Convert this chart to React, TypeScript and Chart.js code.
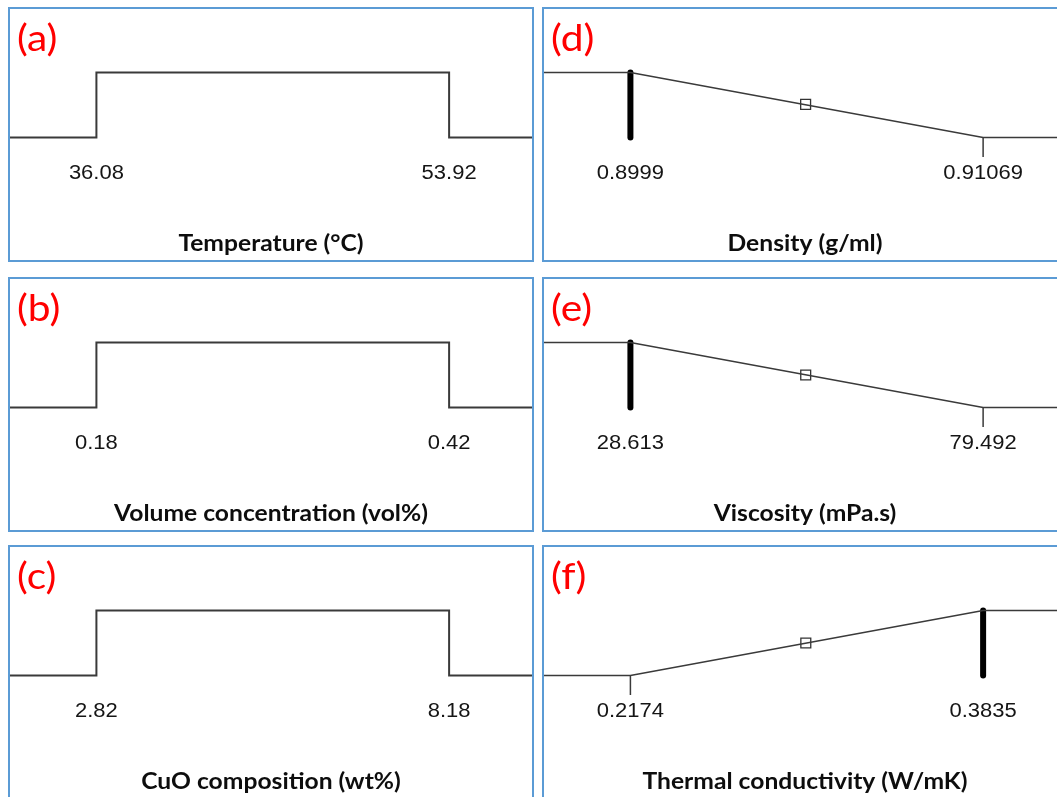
import { useEffect, useRef } from "react";
import { Chart, registerables } from "chart.js";

Chart.register(...registerables);

// Factor ranges, panels (a)-(c)
const factorLetters = ["(a)", "(b)", "(c)"];
const factorNames = ["Temperature (°C)", "Volume concentration (vol%)", "CuO composition (wt%)"];
const factorLow = [36.08, 0.18, 2.82];
const factorHigh = [53.92, 0.42, 8.18];
const factorLowText = ["36.08", "0.18", "2.82"];
const factorHighText = ["53.92", "0.42", "8.18"];

// Response desirability ramps, panels (d)-(f)
const responseLetters = ["(d)", "(e)", "(f)"];
const responseNames = ["Density (g/ml)", "Viscosity (mPa.s)", "Thermal conductivity (W/mK)"];
const responseLow = [0.8999, 28.613, 0.2174];
const responseHigh = [0.91069, 79.492, 0.3835];
const responseLowText = ["0.8999", "28.613", "0.2174"];
const responseHighText = ["0.91069", "79.492", "0.3835"];
const responseGoal = ["minimize", "minimize", "maximize"];
const responseSolution = [0.8999, 28.613, 0.3835];
const rampMarkerX = [0.90526, 53.9, 0.3];
const rampMarkerD = [0.51, 0.5, 0.5];

const PANEL_W = 526;
const PANEL_H = 255;
const BORDER = 2;
const COL_LEFT = [8, 542];
const ROW_TOP = [7, 277, 545];

const PAD_LEFT = 0.245;
const PAD_RIGHT = 0.235;
const Y_MIN = -1.885;
const Y_MAX = 1.977;
const LINE = "#3a3a3a";

type LabelSpec = { value: number; text: string };
type TextOpts = { letter: string; title: string; labels: LabelSpec[] };

function stretchedText(
  ctx: CanvasRenderingContext2D,
  text: string,
  x: number,
  y: number,
  font: string,
  color: string,
  align: CanvasTextAlign,
  sx: number
) {
  ctx.save();
  ctx.translate(x, y);
  ctx.scale(sx, 1);
  ctx.font = font;
  ctx.fillStyle = color;
  ctx.textAlign = align;
  ctx.textBaseline = "middle";
  ctx.fillText(text, 0, 0);
  ctx.restore();
}

const panelText = {
  id: "panelText",
  afterDatasetsDraw(chart: any, _args: any, opts: TextOpts) {
    const { ctx, width } = chart;
    const xs = chart.scales.x;
    const ys = chart.scales.y;
    const y0 = ys.getPixelForValue(0);
    opts.labels.forEach((l) => {
      stretchedText(ctx, l.text, xs.getPixelForValue(l.value), y0 + 36, '20px "Liberation Sans", Arial, sans-serif', "#151515", "center", 1.1);
    });
    stretchedText(ctx, opts.title, width / 2, 235, 'bold 22px Lato, "Open Sans", sans-serif', "#0d0d0d", "center", 1.12);
    stretchedText(ctx, opts.letter, 7, 30, '37px Lato, "Open Sans", sans-serif', "#ff0000", "left", 1.1);
  },
};

function baseOptions(lo: number, hi: number, text: TextOpts): any {
  const span = hi - lo;
  return {
    responsive: false,
    animation: false,
    events: [],
    layout: { padding: 0, autoPadding: false },
    scales: {
      x: { type: "linear", display: false, min: lo - PAD_LEFT * span, max: hi + PAD_RIGHT * span },
      y: { type: "linear", display: false, min: Y_MIN, max: Y_MAX },
    },
    plugins: { legend: { display: false }, tooltip: { enabled: false }, panelText: text },
  };
}

function factorConfig(i: number): any {
  const lo = factorLow[i];
  const hi = factorHigh[i];
  const opts = baseOptions(lo, hi, {
    letter: factorLetters[i],
    title: factorNames[i],
    labels: [
      { value: lo, text: factorLowText[i] },
      { value: hi, text: factorHighText[i] },
    ],
  });
  const min = opts.scales.x.min;
  const max = opts.scales.x.max;
  return {
    type: "line",
    data: {
      datasets: [
        {
          data: [
            { x: min, y: 0 },
            { x: lo, y: 0 },
            { x: lo, y: 1 },
            { x: hi, y: 1 },
            { x: hi, y: 0 },
            { x: max, y: 0 },
          ],
          borderColor: LINE,
          borderWidth: 2,
          pointRadius: 0,
          tension: 0,
          fill: false,
        },
      ],
    },
    options: opts,
    plugins: [panelText],
  };
}

function responseConfig(i: number): any {
  const lo = responseLow[i];
  const hi = responseHigh[i];
  const opts = baseOptions(lo, hi, {
    letter: responseLetters[i],
    title: responseNames[i],
    labels: [
      { value: lo, text: responseLowText[i] },
      { value: hi, text: responseHighText[i] },
    ],
  });
  const min = opts.scales.x.min;
  const max = opts.scales.x.max;
  const minimize = responseGoal[i] === "minimize";
  const ramp = minimize
    ? [
        { x: min, y: 1 },
        { x: lo, y: 1 },
        { x: hi, y: 0 },
        { x: max, y: 0 },
      ]
    : [
        { x: min, y: 0 },
        { x: lo, y: 0 },
        { x: hi, y: 1 },
        { x: max, y: 1 },
      ];
  const tickX = minimize ? hi : lo;
  const sol = responseSolution[i];
  return {
    type: "line",
    data: {
      datasets: [
        { data: ramp, borderColor: LINE, borderWidth: 1.6, pointRadius: 0, tension: 0, fill: false },
        {
          data: [
            { x: tickX, y: 0 },
            { x: tickX, y: -0.3 },
          ],
          borderColor: LINE,
          borderWidth: 1.5,
          pointRadius: 0,
          fill: false,
        },
        {
          data: [
            { x: sol, y: 0 },
            { x: sol, y: 1 },
          ],
          borderColor: "#000",
          borderWidth: 6,
          borderCapStyle: "round",
          pointRadius: 0,
          fill: false,
        },
        {
          data: [{ x: rampMarkerX[i], y: rampMarkerD[i] }],
          showLine: false,
          pointStyle: "rect",
          pointRadius: 7,
          pointBackgroundColor: "#fff",
          pointBorderColor: "#333",
          pointBorderWidth: 1.3,
        },
      ],
    },
    options: opts,
    plugins: [panelText],
  };
}

function Panel({ left, top, make }: { left: number; top: number; make: () => any }) {
  const ref = useRef<HTMLCanvasElement>(null);
  useEffect(() => {
    if (!ref.current) return;
    const chart = new Chart(ref.current, make());
    return () => chart.destroy();
  }, []);
  return (
    <div
      style={{
        position: "absolute",
        left,
        top,
        width: PANEL_W,
        height: PANEL_H,
        border: `${BORDER}px solid #5B9BD5`,
        boxSizing: "border-box",
        background: "#fff",
      }}
    >
      <canvas
        ref={ref}
        width={PANEL_W - 2 * BORDER}
        height={PANEL_H - 2 * BORDER}
        style={{ display: "block" }}
      />
    </div>
  );
}

export default function App() {
  return (
    <div
      style={{
        position: "fixed",
        left: 0,
        top: 0,
        width: 1057,
        height: 797,
        overflow: "hidden",
        background: "#fff",
      }}
    >
      {factorLetters.map((_, i) => (
        <Panel key={"f" + i} left={COL_LEFT[0]} top={ROW_TOP[i]} make={() => factorConfig(i)} />
      ))}
      {responseLetters.map((_, i) => (
        <Panel key={"r" + i} left={COL_LEFT[1]} top={ROW_TOP[i]} make={() => responseConfig(i)} />
      ))}
    </div>
  );
}
